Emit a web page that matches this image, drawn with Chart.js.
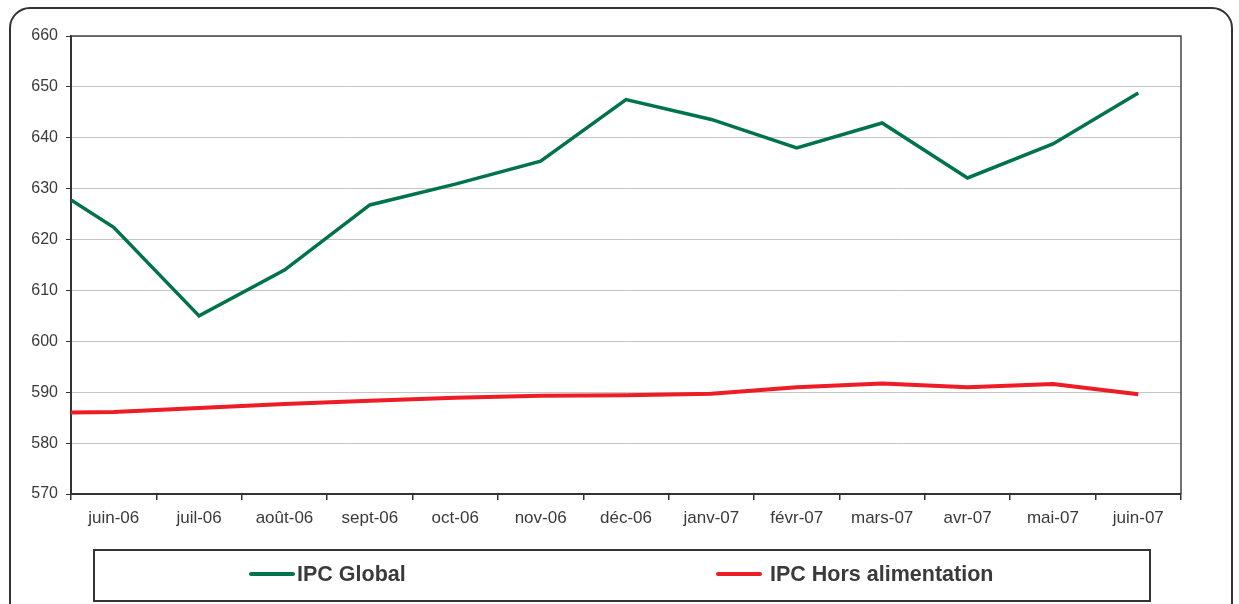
<!DOCTYPE html>
<html lang="fr">
<head>
<meta charset="utf-8">
<title>IPC</title>
<script src="https://cdn.jsdelivr.net/npm/chart.js@4.4.1/dist/chart.umd.min.js"></script>
<style>
  html, body { margin: 0; padding: 0; background: #fff; }
  #wrap { width: 1239px; height: 604px; position: relative; }
</style>
</head>
<body>
<div id="wrap"><canvas id="ipcChart" width="1239" height="604"></canvas></div>
<script>
// mois affichés sous l'axe
var months = ['juin-06', 'juil-06', 'août-06', 'sept-06', 'oct-06', 'nov-06', 'déc-06',
              'janv-07', 'févr-07', 'mars-07', 'avr-07', 'mai-07', 'juin-07'];

// la première valeur est celle du bord gauche de l'axe, les suivantes une par mois
var ipcGlobal = [627.8, 622.4, 605.0, 614.0, 626.8, 630.9, 635.4, 647.5, 643.6, 638.0, 642.9, 632.1, 638.8, 648.8];
var ipcHors   = [586.0, 586.1, 586.9, 587.7, 588.3, 588.9, 589.3, 589.4, 589.7, 591.0, 591.7, 591.0, 591.6, 589.6];

var yTicks = [570, 580, 590, 600, 610, 620, 630, 640, 650, 660];

var FONT = '"Liberation Sans", Arial, sans-serif';
var TEXT = '#3a3a3a';
var DARK = '#333333';

function toPoints(values) {
    return values.map(function(v, i) {
        return { x: i === 0 ? -0.5 : i - 1, y: v };
    });
}

// cadre arrondi, bord haut/droit du tracé et légende encadrée
var framePlugin = {
    id: 'frame',
    afterDraw: function(chart) {
        var ctx = chart.ctx;
        var area = chart.chartArea;
        ctx.save();

        ctx.strokeStyle = '#444';
        ctx.lineWidth = 1.5;
        ctx.beginPath();
        ctx.moveTo(area.left, area.top);
        ctx.lineTo(area.right, area.top);
        ctx.lineTo(area.right, area.bottom);
        ctx.stroke();

        ctx.strokeStyle = DARK;
        ctx.lineWidth = 2;
        ctx.beginPath();
        ctx.roundRect(10, 8, 1222, 620, 20);
        ctx.stroke();

        ctx.beginPath();
        ctx.rect(94, 550, 1056, 51);
        ctx.stroke();

        var items = [
            { ds: chart.data.datasets[0], x0: 251, x1: 293, tx: 297 },
            { ds: chart.data.datasets[1], x0: 718, x1: 760, tx: 770 }
        ];
        ctx.font = 'bold 21.5px ' + FONT;
        ctx.textBaseline = 'middle';
        items.forEach(function(it) {
            ctx.strokeStyle = it.ds.borderColor;
            ctx.lineWidth = 4;
            ctx.lineCap = 'round';
            ctx.beginPath();
            ctx.moveTo(it.x0, 574);
            ctx.lineTo(it.x1, 574);
            ctx.stroke();
            ctx.fillStyle = TEXT;
            ctx.fillText(it.ds.label, it.tx, 575);
        });
        ctx.restore();
    }
};

new Chart(document.getElementById('ipcChart'), {
    type: 'line',
    data: {
        datasets: [{
            label: 'IPC Global',
            data: toPoints(ipcGlobal),
            borderColor: '#00734a',
            borderWidth: 3.5,
            pointRadius: 0,
            tension: 0
        }, {
            label: 'IPC Hors alimentation',
            data: toPoints(ipcHors),
            borderColor: '#ee1c25',
            borderWidth: 4,
            pointRadius: 0,
            tension: 0
        }]
    },
    options: {
        responsive: false,
        animation: false,
        layout: { padding: { left: 0, top: 36, right: 58, bottom: 70 } },
        plugins: {
            legend: { display: false },
            tooltip: { enabled: false }
        },
        scales: {
            x: {
                type: 'linear',
                min: -0.5,
                max: 12.5,
                afterBuildTicks: function(scale) {
                    scale.ticks = months.map(function(m, i) { return { value: i }; });
                },
                afterFit: function(scale) { scale.height = 40; },
                grid: {
                    offset: true,
                    drawOnChartArea: false,
                    tickLength: 6,
                    tickColor: DARK,
                    lineWidth: 1.5
                },
                border: { color: DARK, width: 2 },
                ticks: {
                    autoSkip: false,
                    maxRotation: 0,
                    padding: 8,
                    color: TEXT,
                    font: { family: FONT, size: 17 },
                    callback: function(value) { return months[value]; }
                }
            },
            y: {
                min: yTicks[0],
                max: yTicks[yTicks.length - 1],
                afterBuildTicks: function(scale) {
                    scale.ticks = yTicks.map(function(v) { return { value: v }; });
                },
                afterFit: function(scale) { scale.width = 71; },
                grid: {
                    color: '#c9c4c4',
                    tickColor: DARK,
                    tickLength: 5,
                    lineWidth: 1
                },
                border: { color: DARK, width: 2 },
                ticks: {
                    padding: 8,
                    color: TEXT,
                    font: { family: FONT, size: 16 }
                }
            }
        }
    },
    plugins: [framePlugin]
});
</script>
</body>
</html>
